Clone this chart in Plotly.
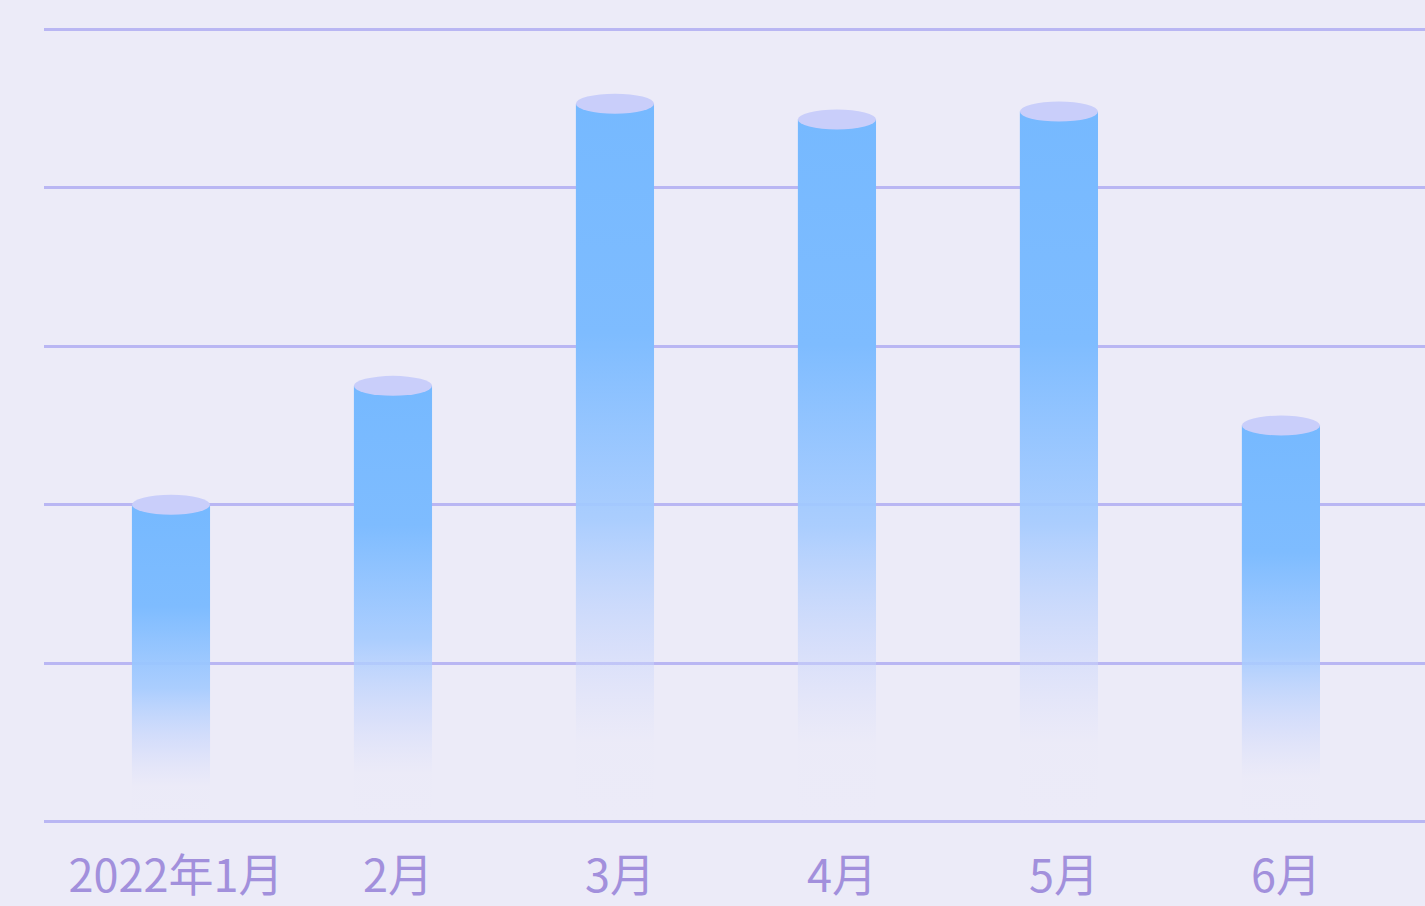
import plotly.graph_objects as go

# Monthly values (one grid step = 1 unit)
months = ["2022年1月", "2月", "3月", "4月", "5月", "6月"]
values = [2.0, 2.75, 4.53, 4.43, 4.48, 2.5]
grid_ticks = [0, 1, 2, 3, 4, 5]

BAR_HALF = 0.176          # half of the bar width, in category units
CAP_PX = 10               # half height of the elliptical cap, in pixels
BAR_COLOR = "rgba(118,185,255,1)"
CAP_COLOR = "#c9cefa"

# vertical fade: transparent near the base, solid blue at the top
fade = [
    [0.0, "rgba(215,220,250,0)"],
    [0.11, "rgba(212,218,250,0.03)"],
    [0.24, "rgba(200,214,252,0.55)"],
    [0.42, "rgba(165,203,255,0.92)"],
    [0.68, "rgba(126,188,255,1)"],
    [1.0, BAR_COLOR],
]

fig = go.Figure()
shapes = []
for i, v in enumerate(values):
    x0, x1 = i - BAR_HALF, i + BAR_HALF
    fig.add_trace(go.Scatter(
        x=[x0, x1, x1, x0, x0],
        y=[0, 0, v, v, 0],
        mode="lines",
        line=dict(width=0, color="rgba(0,0,0,0)"),
        fill="toself",
        fillgradient=dict(type="vertical", colorscale=fade),
        hoverinfo="skip",
        showlegend=False,
    ))
    # cylinder cap
    shapes.append(dict(
        type="circle", xref="x", yref="y",
        x0=x0, x1=x1,
        ysizemode="pixel", yanchor=v, y0=-CAP_PX, y1=CAP_PX,
        fillcolor=CAP_COLOR, line=dict(width=0), layer="above",
    ))

fig.update_layout(
    width=1425, height=906,
    margin=dict(l=44, r=0, t=26, b=81),
    paper_bgcolor="#ecebf8",
    plot_bgcolor="rgba(0,0,0,0)",
    shapes=shapes,
    xaxis=dict(
        range=[-0.572, 5.649], automargin=False,
        tickmode="array", tickvals=list(range(len(months))), ticktext=months,
        showgrid=False, zeroline=False, showline=False,
        ticks="", ticklabelstandoff=21, ticklabelshift=5,
        tickfont=dict(family="Noto Sans CJK SC", size=45, color="#a290dc"),
    ),
    yaxis=dict(
        range=[-0.02, 5.02], automargin=False,
        tickvals=grid_ticks, showticklabels=False,
        showgrid=True, gridcolor="#b9b6f3", gridwidth=2.5,
        zeroline=False, showline=False,
    ),
)

fig.write_html("out.html")
